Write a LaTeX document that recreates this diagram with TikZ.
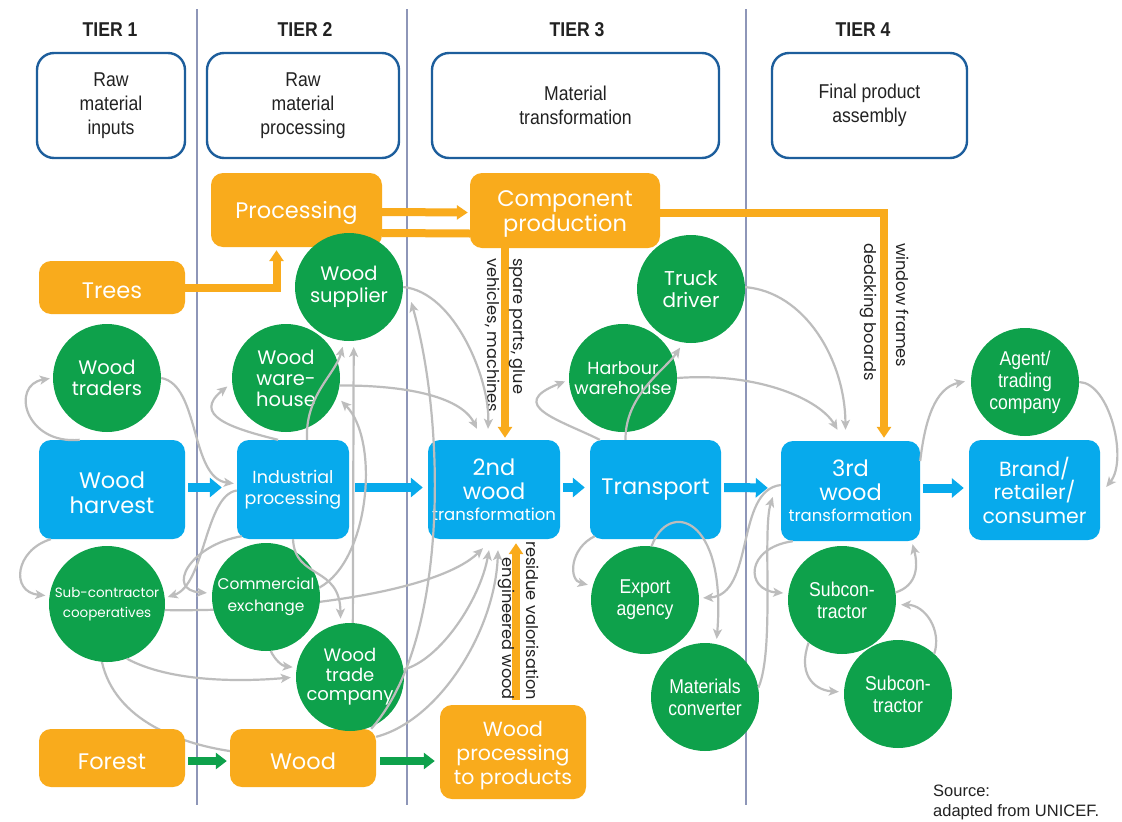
\documentclass[tikz,border=0pt]{standalone}
\usepackage{fontspec}
\setmainfont{Poppins}
\newfontfamily\condf{Liberation Sans}[FakeStretch=0.88]
\newfontfamily\srcf{Liberation Sans}
\usetikzlibrary{arrows.meta,calc}
\pgfdeclarelayer{bg}
\pgfsetlayers{bg,main}
\definecolor{cOrange}{HTML}{F9AB1C}
\definecolor{cBlue}{HTML}{07AAEC}
\definecolor{cGreen}{HTML}{0EA14B}
\definecolor{cGray}{HTML}{BDBDBD}
\definecolor{cHead}{HTML}{1D5E9C}
\definecolor{cDiv}{HTML}{8E96B8}
\definecolor{cText}{HTML}{222222}
\newcommand{\tstr}{\rule{0pt}{1.05em}}
\tikzset{
  tstrut/.style={execute at begin node={\rule{0pt}{1.0em}}},
  obox/.style={fill=cOrange, rounded corners=12pt, text=white, align=center, inner sep=0pt, font=\fontsize{22.5}{25}\selectfont, tstrut},
  bbox/.style={fill=cBlue, rounded corners=12pt, text=white, align=center, inner sep=0pt, font=\fontsize{22.5}{24}\selectfont},
  gcirc/.style={circle, fill=cGreen, minimum size=108pt, inner sep=0pt, text=white, align=center, font=\fontsize{19.5}{21.5}\selectfont},
  ccirc/.style={gcirc, font=\condf\fontsize{20}{22}\selectfont},
  hbox/.style={draw=cHead, line width=2.4pt, rounded corners=17pt, align=center, inner sep=0pt, text=cText, font=\condf\fontsize{20}{24}\selectfont},
  tier/.style={font=\condf\bfseries\fontsize{20}{24}\selectfont, text=cText, inner sep=0pt},
  garrow/.style={draw=cGray, line width=2.2pt, -{Stealth[length=10pt,width=9pt,inset=2.5pt]}},
  oarrow/.style={draw=cOrange, line width=8pt, -{Triangle[length=11pt,width=14pt]}},
  oline/.style={draw=cOrange, line width=8pt},
  barrow/.style={draw=cBlue, line width=9pt, -{Triangle[length=12pt,width=19pt]}},
  grarrow/.style={draw=cGreen, line width=8pt, -{Triangle[length=11pt,width=16pt]}},
  lbl/.style={rotate=-90, font=\fontsize{16.2}{18}\selectfont, text=cText, inner sep=0pt},
  divider/.style={draw=cDiv, line width=1.2pt}
}
\begin{document}
\begin{tikzpicture}[x=1pt,y=-1pt]
\useasboundingbox (0,0) rectangle (1122,822);
\begin{pgfonlayer}{bg}
\fill[white] (0,0) rectangle (1122,822);
\draw[divider] (197,9) -- (197,805);
\draw[divider] (407,9) -- (407,805);
\draw[divider] (746,9) -- (746,805);
\end{pgfonlayer}

% headers
\node[tier] (t1) at (110,30) {TIER 1};
\node[tier] (t2) at (305,30) {TIER 2};
\node[tier] (t3) at (577,30) {TIER 3};
\node[tier] (t4) at (863,30) {TIER 4};
\node[hbox, minimum width=148pt, minimum height=105pt] (h1) at (111,105.5) {Raw\\material\\inputs};
\node[hbox, minimum width=192pt, minimum height=105pt] (h2) at (303,105.5) {Raw\\material\\processing};
\node[hbox, minimum width=287pt, minimum height=105pt] (h3) at (575.5,105.5) {Material\\transformation};
\node[hbox, minimum width=195pt, minimum height=105pt] (h4) at (869.5,105.5) {Final product\\assembly};

% orange boxes
\node[obox, minimum width=171pt, minimum height=74pt] (proc) at (296.5,210) {Processing};
\node[obox, minimum width=190pt, minimum height=75pt] (comp) at (565,210.5) {\tstr Component\\production};
\node[obox, minimum width=146pt, minimum height=53pt] (trees) at (112,287.5) {Trees};
\node[obox, minimum width=146pt, minimum height=58pt] (forest) at (112,758) {Forest};
\node[obox, minimum width=146pt, minimum height=58pt] (wood) at (303,758) {Wood};
\node[obox, minimum width=146pt, minimum height=94pt, font=\fontsize{20.5}{24}\selectfont] (wpp) at (513,752) {\tstr Wood\\processing\\to products};

% blue boxes
\node[bbox, minimum width=146pt, minimum height=99pt, font=\fontsize{22.5}{25}\selectfont] (harvest) at (112,489.5) {\tstr Wood\\harvest};
\node[bbox, minimum width=112pt, minimum height=99pt, font=\fontsize{17.5}{21}\selectfont] (indus) at (293,489.5) {Industrial\\processing};
\node[bbox, minimum width=132pt, minimum height=99pt] (second) at (494,489.5) {2nd\\wood\\[-3pt]{\fontsize{16.5}{18}\selectfont transformation}};
\node[bbox, minimum width=131pt, minimum height=99pt] (transp) at (655.5,489.5) {Transport};
\node[bbox, minimum width=139pt, minimum height=100pt] (third) at (850.5,491) {3rd\\wood\\[-3pt]{\fontsize{16.5}{18}\selectfont transformation}};
\node[bbox, minimum width=131pt, minimum height=100pt, font=\fontsize{20.5}{23.5}\selectfont] (brand) at (1034.5,490) {Brand/\\retailer/\\consumer};

% green circles
\node[gcirc] (traders) at (107,378) {Wood\\traders};
\node[gcirc] (wsup) at (349,287) {Wood\\supplier};
\node[gcirc, font=\fontsize{19.5}{21}\selectfont] (wware) at (286,378) {Wood\\ware-\\house};
\node[gcirc, minimum size=116pt, font=\fontsize{13.5}{20}\selectfont] (subco) at (107,604) {Sub-contractor\\cooperatives};
\node[gcirc, font=\fontsize{15.5}{22}\selectfont] (comex) at (266,597) {Commercial\\exchange};
\node[gcirc, font=\fontsize{18}{19.5}\selectfont] (wtc) at (350,677) {Wood\\trade\\company};
\node[gcirc, font=\fontsize{20}{22}\selectfont] (truck) at (691,289) {Truck\\driver};
\node[gcirc, font=\fontsize{17.5}{20.5}\selectfont] (harbour) at (623,378) {Harbour\\warehouse};
\node[ccirc] (export) at (645,600) {Export\\agency};
\node[ccirc] (matconv) at (705,697) {Materials\\converter};
\node[ccirc] (agent) at (1025,382) {Agent/\\trading\\company};
\node[ccirc] (sub1) at (842,600) {Subcon-\\tractor};
\node[ccirc] (sub2) at (898,694) {Subcon-\\tractor};

% orange arrows
\draw[oarrow, shorten >=3pt] (trees.east) -| ($(proc.south)+(-20,0)$);
\draw[oarrow, shorten >=2pt] ($(proc.east)+(0,2)$) -- ($(comp.west)+(0,2)$);
\draw[oline] ($(proc.east)+(0,23)$) -- ($(comp.west)+(0,23)$);
\draw[oarrow, shorten >=3pt] ($(comp.east)+(0,2)$) -| ($(third.north)+(33.5,0)$);
\coordinate (ctop) at ($(comp.south)+(-60,0)$);
\draw[oarrow, shorten >=2pt] (ctop) -- (ctop |- second.north);
\coordinate (wtop) at ($(wpp.north)+(3,0)$);
\draw[oarrow, shorten <=5pt, shorten >=4pt] (wtop) -- (wtop |- second.south);

% labels on orange arrows
\node[lbl, anchor=west] (l1) at (517,258) {spare parts, glue};
\node[lbl, anchor=west] (l2) at (493,258) {vehicles, machines};
\node[lbl, anchor=west] (l3) at (903,243) {window frames};
\node[lbl, anchor=west] (l4) at (868,243) {dedcking boards};
\node[lbl, anchor=east] (l5) at (533,700) {residue valorisation};
\node[lbl, anchor=east] (l6) at (506,700) {engineered wood};

% blue arrows
\draw[barrow, shorten <=3pt, shorten >=15pt] ($(harvest.east)+(0,-2)$) -- ($(indus.west)+(0,-2)$);
\draw[barrow, shorten <=6pt, shorten >=5pt] ($(indus.east)+(0,-2)$) -- ($(second.west)+(0,-2)$);
\draw[barrow, shorten <=3pt, shorten >=5pt] ($(second.east)+(0,-2)$) -- ($(transp.west)+(0,-2)$);
\draw[barrow, shorten <=3pt, shorten >=13pt] ($(transp.east)+(0,-2)$) -- ($(third.west)+(0,-3)$);
\draw[barrow, shorten <=3pt, shorten >=5pt] ($(third.east)+(0,-3)$) -- ($(brand.west)+(0,-2)$);

% green arrows
\draw[grarrow, shorten <=3pt, shorten >=3pt] ($(forest.east)+(0,3)$) -- ($(wood.west)+(0,3)$);
\draw[grarrow, shorten <=4pt, shorten >=5pt] ($(wood.east)+(0,3)$) -- ($(wpp.west)+(0,9)$);

% gray arrows behind nodes
\begin{pgfonlayer}{bg}
\draw[garrow] (subco.354) .. controls (300,612) and (440,590) .. ($(second.south)+(-11,9)$);
\draw[garrow] (subco.-95) .. controls (115,720) and (180,745) .. ($(wood.west)+(15,-5)$);
\end{pgfonlayer}

% gray arrows
\draw[garrow, shorten >=3pt] (harvest.123) .. controls (25,445) and (10,385) .. (traders.west);
\draw[garrow] (traders.east) .. controls (200,385) and (190,478) .. ($(indus.west)+(-3,-6)$);
\draw[garrow, shorten >=3pt] ($(indus.west)+(0,1)$) .. controls (205,495) and (205,585) .. (subco.6);
\draw[garrow, shorten >=5pt] ($(indus.south west)+(5,-3)$) .. controls (190,545) and (165,590) .. (comex.176);
\draw[garrow, shorten >=4pt] ($(harvest.south west)+(12,0)$) .. controls (15,550) and (10,592) .. (subco.172);
\draw[garrow, shorten >=5pt] (subco.-70) .. controls (170,682) and (240,682) .. (wtc.180);
\draw[garrow, shorten >=4pt] (comex.-85) .. controls (275,660) and (282,666) .. (wtc.170);
\draw[garrow, shorten >=5pt] (indus.south) .. controls (295,580) and (340,565) .. (wtc.100);
\draw[garrow, shorten >=6pt] (wtc.87) -- (wsup.275);
\draw[garrow, shorten >=6pt] ($(indus.north)+(14,0)$) .. controls (305,395) and (335,375) .. (wsup.265);
\draw[garrow, shorten >=6pt] (comex.10) .. controls (370,560) and (380,440) .. (wware.-20);
\draw[garrow, shorten >=6pt] ($(indus.north)+(-15,0)$) .. controls (230,428) and (192,415) .. (wware.185);
\draw[garrow] (wware.-8) .. controls (400,385) and (460,395) .. ($(second.north)+(-17,-11)$);
\draw[garrow] (wsup.0) .. controls (455,292) and (490,380) .. ($(second.north)+(-6,-11)$);
\draw[garrow] ($(wood.north east)+(-5,0)$) .. controls (450,640) and (445,420) .. ($(wsup.east)+(8,15)$);
\draw[garrow] (wtc.8) .. controls (440,660) and (480,600) .. ($(second.south)+(-5,11)$);
\draw[garrow] ($(wood.north east)+(0,8)$) .. controls (440,720) and (495,630) .. ($(second.south)+(4,11)$);
\draw[garrow, shorten >=4pt] ($(transp.north west)+(10,0)$) .. controls (560,420) and (505,405) .. (harbour.182);
\draw[garrow, shorten >=6pt] ($(transp.north)+(-30,0)$) .. controls (625,395) and (665,370) .. (truck.262);
\draw[garrow] (truck.2) .. controls (805,292) and (845,360) .. ($(third.north)+(-5,-11)$);
\draw[garrow] (harbour.0) .. controls (760,372) and (820,400) .. ($(third.north)+(-13,-11)$);
\draw[garrow, shorten >=5pt] ($(transp.south west)+(5,-3)$) .. controls (570,548) and (568,580) .. (export.165);
\draw[garrow, shorten >=5pt] (export.83) .. controls (668,500) and (727,515) .. (matconv.78);
\draw[garrow, shorten >=4pt] ($(third.west)+(0,-6)$) .. controls (735,490) and (755,595) .. (export.2);
\draw[garrow] (matconv.10) .. controls (775,650) and (762,530) .. ($(third.west)+(-8,6)$);
\draw[garrow, shorten >=5pt] ($(third.south west)+(12,0)$) .. controls (745,548) and (745,590) .. (sub1.173);
\draw[garrow] (sub1.8) .. controls (918,585) and (918,565) .. ($(third.south)+(62,3)$);
\draw[garrow, shorten >=5pt] (sub1.232) .. controls (798,672) and (812,690) .. (sub2.178);
\draw[garrow, shorten >=5pt] (sub2.48) .. controls (942,630) and (925,605) .. (sub1.-5);
\draw[garrow, shorten >=6pt] ($(third.east)+(0,-30)$) .. controls (925,420) and (935,388) .. (agent.178);
\draw[garrow] (agent.0) .. controls (1110,383) and (1128,460) .. ($(brand.east)+(6,-3)$);

% source
\node[anchor=base west, inner sep=0pt, font=\srcf\fontsize{16.5}{20}\selectfont, text=cText] (src1) at (933,796) {Source:};
\node[anchor=base west, inner sep=0pt, font=\srcf\fontsize{16.5}{20}\selectfont, text=cText] (src2) at (933,816) {adapted from UNICEF.};
\end{tikzpicture}
\end{document}
